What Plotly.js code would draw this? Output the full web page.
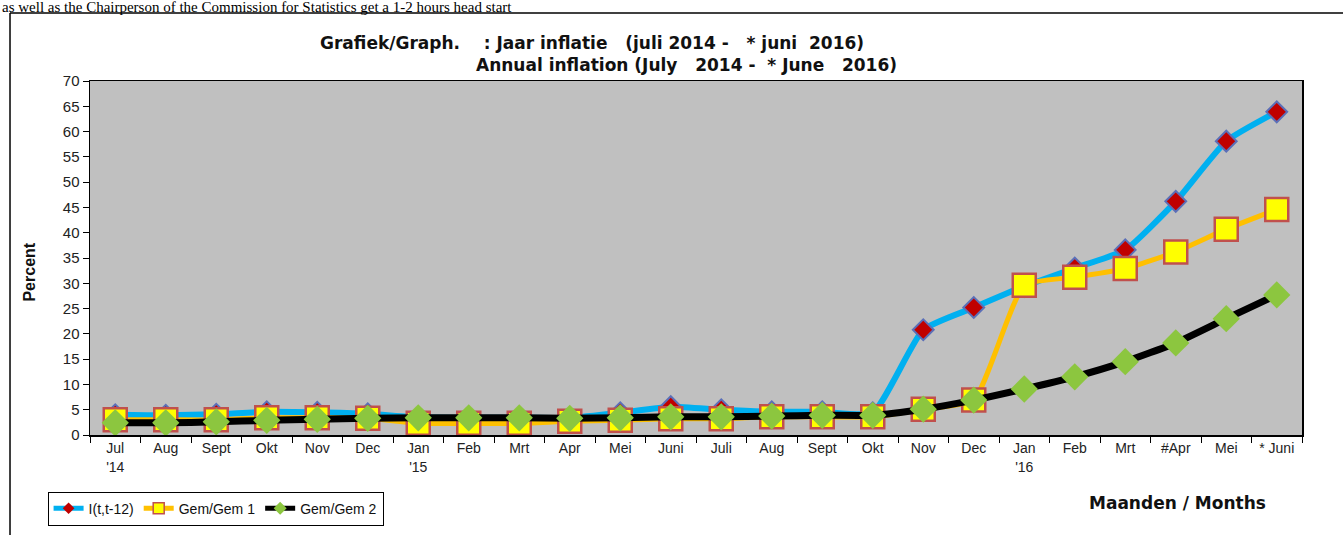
<!DOCTYPE html>
<html>
<head>
<meta charset="utf-8">
<script src="https://cdn.plot.ly/plotly-3.0.1.min.js"></script>
<style>
  html, body { margin: 0; padding: 0; background: #fff; }
  #chart { width: 1343px; height: 535px; }
</style>
</head>
<body>
<div id="chart"></div>
<script>
// ---- data ----
var monthLabels = ["Jul<br>'14", "Aug", "Sept", "Okt", "Nov", "Dec", "Jan<br>'15", "Feb", "Mrt", "Apr", "Mei", "Juni",
                   "Juli", "Aug", "Sept", "Okt", "Nov", "Dec", "Jan<br>'16", "Feb", "Mrt", "#Apr", "Mei", "* Juni"];
var monthIndex = [0,1,2,3,4,5,6,7,8,9,10,11,12,13,14,15,16,17,18,19,20,21,22,23];
var inflation = [4.0, 3.9, 4.1, 4.6, 4.5, 4.2, 3.5, 3.4, 3.4, 3.4, 4.4, 5.6,
                 5.0, 4.6, 4.6, 4.4, 20.8, 25.2, 29.4, 33.0, 36.6, 46.2, 58.1, 63.9];
var gem1 = [3.0, 3.0, 3.0, 3.4, 3.4, 3.3, 2.3, 2.3, 2.3, 2.7, 2.9, 3.2,
            3.2, 3.6, 3.6, 3.6, 5.1, 6.9, 29.6, 31.2, 32.9, 36.2, 40.7, 44.6];
var gem2 = [2.4, 2.4, 2.6, 2.9, 3.1, 3.3, 3.4, 3.4, 3.4, 3.3, 3.4, 3.6,
            3.6, 3.75, 3.9, 3.9, 5.1, 6.9, 9.1, 11.5, 14.5, 18.2, 23.0, 27.7];
var seriesNames = ["I(t,t-12)", "Gem/Gem 1", "Gem/Gem 2"];

var lineStyles = [
  {color: '#00b0f0', width: 6, shape: 'spline', smoothing: 0.5},
  {color: '#ffc000', width: 5, shape: 'spline', smoothing: 0.5},
  {color: '#000000', width: 7, shape: 'spline', smoothing: 0.5}
];
var markerStyles = [
  {symbol: 'diamond', size: 16, color: '#c00000', line: {color: '#5b6fb8', width: 2}},
  {symbol: 'square', size: 23, color: '#ffff00', line: {color: '#c0504d', width: 2.5}},
  {symbol: 'diamond', size: 21, color: '#8cc63f', line: {width: 0}}
];
var legendMarkers = [
  {symbol: 'diamond', size: 9, color: '#c00000', line: {width: 0}},
  {symbol: 'square', size: 11, color: '#ffff00', line: {color: '#c0504d', width: 1.5}},
  {symbol: 'diamond', size: 10, color: '#8cc63f', line: {width: 0}}
];
var legendLines = [
  {color: '#00b0f0', width: 5},
  {color: '#ffc000', width: 5},
  {color: '#000000', width: 5}
];

var seriesData = [inflation, gem1, gem2];
var traces = [];
for (var i = 0; i < 3; i++) {
  traces.push({
    x: monthIndex, y: seriesData[i], name: seriesNames[i], type: 'scatter', mode: 'lines+markers',
    line: lineStyles[i], marker: markerStyles[i], showlegend: false
  });
}
// legend keys (no drawn points)
for (var j = 0; j < 3; j++) {
  traces.push({
    x: [null], y: [null], name: seriesNames[j], type: 'scatter', mode: 'lines+markers',
    line: legendLines[j], marker: legendMarkers[j], showlegend: true
  });
}

var F = 'Arial, "Liberation Sans", sans-serif';
var W = '"DejaVu Sans", Arial, sans-serif';
var layout = {
  width: 1343, height: 535,
  margin: {l: 90, r: 41, t: 81, b: 100, autoexpand: false},
  paper_bgcolor: '#ffffff',
  plot_bgcolor: '#c0c0c0',
  showlegend: true,
  font: {family: F, color: '#222'},
  xaxis: {
    range: [-0.5, 23.5],
    tickmode: 'array', tickvals: monthIndex, ticktext: monthLabels,
    ticks: '', showgrid: false, zeroline: false,
    showline: true, linecolor: '#000', linewidth: 1.5, mirror: true,
    tickfont: {family: F, size: 14, color: '#222'},
    minor: {tickmode: 'linear', tick0: 0.5, dtick: 1, ticks: 'outside', ticklen: 6, tickcolor: '#000', tickwidth: 1, showgrid: false},
    fixedrange: true
  },
  yaxis: {
    range: [0, 70], tickmode: 'linear', tick0: 0, dtick: 5,
    ticks: 'outside', ticklen: 6, tickcolor: '#000',
    showgrid: false, zeroline: false,
    showline: true, linecolor: '#000', linewidth: 1.5, mirror: true,
    tickfont: {family: F, size: 15, color: '#222'},
    fixedrange: true
  },
  legend: {
    orientation: 'h', x: -0.035, xanchor: 'left', y: -0.16, yanchor: 'top',
    bordercolor: '#000', borderwidth: 1, bgcolor: '#fff',
    font: {family: F, size: 14, color: '#111'},
    itemwidth: 30, tracegroupgap: 0
  },
  shapes: [
    {type: 'line', xref: 'paper', yref: 'paper', x0: -0.066, x1: -0.066, y0: 1.192, y1: -0.4, line: {color: '#000', width: 1.5}},
    {type: 'line', xref: 'paper', yref: 'paper', x0: -0.066, x1: 1.1, y0: 1.192, y1: 1.192, line: {color: '#000', width: 1.5}}
  ],
  annotations: [
    {xref: 'paper', yref: 'paper', x: -0.0743, y: 1.209, xanchor: 'left', yanchor: 'middle', showarrow: false,
     text: 'as well as the Chairperson of the Commission for Statistics get a 1-2 hours head start',
     font: {family: '"Liberation Serif", "Times New Roman", serif', size: 15, color: '#000'}},
    {xref: 'paper', yref: 'paper', x: 0.188, y: 1.107, xanchor: 'left', yanchor: 'middle', showarrow: false,
     text: '<b>Grafiek/Graph.&nbsp;&nbsp;&nbsp;&nbsp;: Jaar inflatie&nbsp;&nbsp;&nbsp;(juli 2014 -&nbsp;&nbsp;&nbsp;* juni&nbsp;&nbsp;2016)</b>',
     font: {family: W, size: 17, color: '#111'}},
    {xref: 'paper', yref: 'paper', x: 0.3168, y: 1.045, xanchor: 'left', yanchor: 'middle', showarrow: false,
     text: '<b>Annual inflation&nbsp;(July&nbsp;&nbsp;&nbsp;2014 -&nbsp;&nbsp;* June&nbsp;&nbsp;&nbsp;2016)</b>',
     font: {family: W, size: 17, color: '#111'}},
    {xref: 'paper', yref: 'paper', x: -0.05, y: 0.46, xanchor: 'center', yanchor: 'middle', showarrow: false,
     text: '<b>Percent</b>', textangle: -90,
     font: {family: F, size: 16, color: '#111'}},
    {xref: 'paper', yref: 'paper', x: 0.897, y: -0.192, xanchor: 'center', yanchor: 'middle', showarrow: false,
     text: '<b>Maanden / Months</b>',
     font: {family: W, size: 17, color: '#111'}}
  ]
};

Plotly.newPlot('chart', traces, layout, {staticPlot: true, displayModeBar: false});
</script>
</body>
</html>
